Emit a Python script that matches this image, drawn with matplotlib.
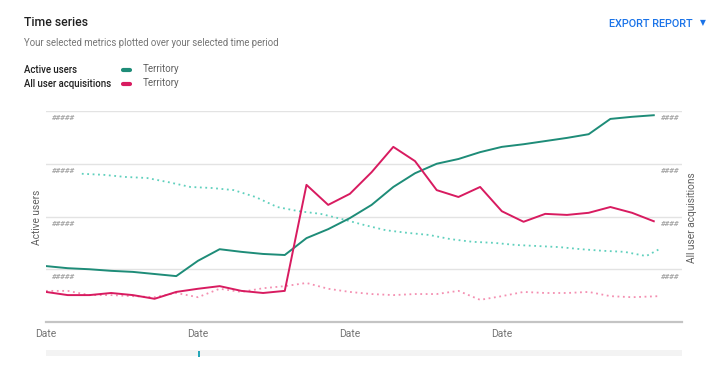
import matplotlib
matplotlib.use("Agg")
import matplotlib.pyplot as plt
import numpy as np

plt.rcParams["font.family"] = ["Roboto", "DejaVu Sans"]

# values (one unit = one gridline step)
active_users = [1.06, 1.02, 1.00, 0.97, 0.95, 0.91, 0.87, 1.16, 1.38, 1.33, 1.29, 1.27,
                1.59, 1.76, 1.97, 2.22, 2.56, 2.82, 3.00, 3.09, 3.22, 3.32, 3.37, 3.43,
                3.49, 3.56, 3.85, 3.89, 3.92]
acquisitions = [0.57, 0.51, 0.51, 0.55, 0.51, 0.44, 0.57, 0.63, 0.68, 0.59, 0.55, 0.59,
                2.60, 2.22, 2.43, 2.84, 3.32, 3.05, 2.50, 2.37, 2.56, 2.10, 1.90, 2.05,
                2.03, 2.07, 2.18, 2.07, 1.91]
active_prev_x = [1.65, 2.65, 3.65, 4.65, 5.65, 6.65, 7.65, 8.65, 9.65, 10.65, 11.65, 12.65,
                 13.65, 14.65, 15.65, 16.65, 17.65, 18.65, 19.65, 20.65, 21.65, 22.65,
                 23.65, 24.65, 25.65, 26.65, 27.65, 28.25]
active_prev = [2.81, 2.79, 2.75, 2.73, 2.65, 2.56, 2.54, 2.50, 2.37, 2.18, 2.10, 2.05,
               1.95, 1.84, 1.74, 1.69, 1.65, 1.57, 1.52, 1.50, 1.46, 1.44, 1.42, 1.38,
               1.35, 1.33, 1.25, 1.38]
acq_prev_x = list(range(28)) + [28.25]
acq_prev = [0.59, 0.59, 0.51, 0.51, 0.49, 0.47, 0.55, 0.47, 0.63, 0.57, 0.64, 0.68,
            0.74, 0.63, 0.57, 0.53, 0.51, 0.53, 0.53, 0.59, 0.42, 0.49, 0.57, 0.55,
            0.55, 0.57, 0.49, 0.47, 0.49]
date_ticks = [0, 7, 14, 21]
date_labels = ["Date", "Date", "Date", "Date"]
y_ticks = [1, 2, 3, 4]

GREEN = "#1e8c78"
RED = "#d81b60"
TEAL_DOT = "#5fd0bd"
PINK_DOT = "#f48fb1"

W, H = 721, 377
fig = plt.figure(figsize=(W / 100, H / 100), dpi=100)


def fx(px):
    return px / W


def fy(py):
    return 1 - py / H


ax = fig.add_axes([fx(46), fy(322), fx(682) - fx(46), fy(111) - fy(322)])
x = np.arange(len(active_users))
ax.plot(active_prev_x, active_prev, color=TEAL_DOT, lw=1.3, ls=(0, (1, 2)))
ax.plot(acq_prev_x, acq_prev, color=PINK_DOT, lw=1.3, ls=(0, (1, 2)))
ax.plot(x, active_users, color=GREEN, lw=1.4)
ax.plot(x, acquisitions, color=RED, lw=1.4)

ax.set_xlim(0, 29.3)
ax.set_ylim(0, 4)
for yt in y_ticks:
    ax.axhline(yt, color="#e3e3e3", lw=1, zorder=0)
    ax.text(0.25, yt - 0.13, "#####", color="#a8a8a8", fontsize=5.8, style="italic",
            fontweight="bold", ha="left", va="center")
    ax.text(29.2, yt - 0.13, "####", color="#a8a8a8", fontsize=5.8, style="italic",
            fontweight="bold", ha="right", va="center")
for s in ["top", "right", "left"]:
    ax.spines[s].set_visible(False)
ax.spines["bottom"].set_color("#c4c4c4")
ax.spines["bottom"].set_linewidth(1.6)
ax.set_yticks([])
ax.set_xticks(date_ticks)
ax.set_xticklabels(date_labels, color="#757575", fontsize=7.5)
ax.tick_params(axis="x", length=0, pad=5)

# axis titles
fig.text(fx(37), fy(217), "Active users", rotation=90, color="#616161", fontsize=7.3,
         ha="center", va="center")
fig.text(fx(692), fy(218), "All user acquisitions", rotation=90, color="#616161",
         fontsize=7.3, ha="center", va="center")

# header
fig.text(fx(24), fy(22), "Time series", color="#212121", fontsize=8.8, fontweight="medium",
         ha="left", va="center")
fig.text(fx(24), fy(43), "Your selected metrics plotted over your selected time period",
         color="#757575", fontsize=6.9, ha="left", va="center")
fig.text(fx(693), fy(24), "EXPORT REPORT", color="#1a73e8", fontsize=7.8,
         fontweight="medium", ha="right", va="center")
fig.text(fx(703), fy(23), "\u25BC", color="#1a73e8", fontsize=5.5, ha="center", va="center",
         family=["DejaVu Sans"])

# legend
for ly, name, col in [(70, "Active users", GREEN), (84, "All user acquisitions", RED)]:
    fig.text(fx(24), fy(ly), name, color="#212121", fontsize=6.9, fontweight="medium",
             ha="left", va="center")
    fig.add_artist(plt.Line2D([fx(123), fx(130)], [fy(ly), fy(ly)], color=col, lw=3,
                              solid_capstyle="round"))
    fig.text(fx(143), fy(ly - 1), "Territory", color="#616161", fontsize=7.0,
             ha="left", va="center")

# scroll bar
fig.add_artist(plt.Rectangle((fx(46), fy(356)), fx(682) - fx(46), fy(350) - fy(356),
                             color="#f3f3f3", lw=0))
fig.add_artist(plt.Rectangle((fx(198), fy(357)), fx(2), fy(351) - fy(357),
                             color="#26a6b8", lw=0))

fig.savefig("out.png", dpi=100)
